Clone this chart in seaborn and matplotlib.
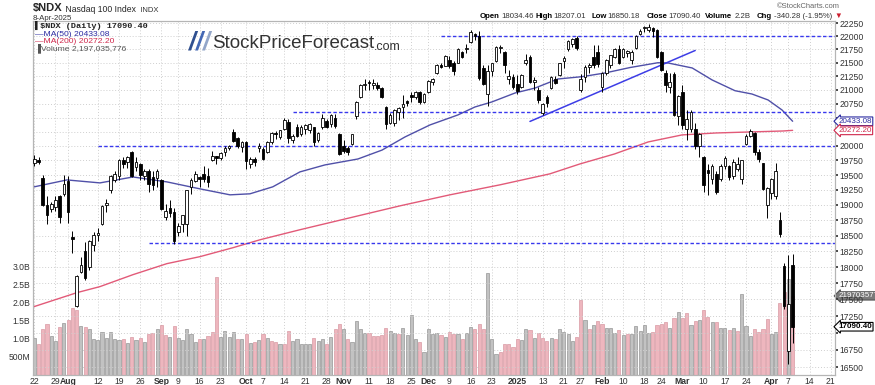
import numpy as np
import pandas as pd
import seaborn as sns
import matplotlib.pyplot as plt
from matplotlib import font_manager

# daily candles, 22-Jul-2024 .. 8-Apr-2025 (trading-day index 0..179)
opens = [19700, 19760, 19450, 19000, 18930, 18960, 19150, 19180,
         19400, 18480, 17400, 17930, 18260, 18000, 18350, 18510, 18680, 19000, 19240, 19420, 19490, 19760, 19720, 19890, 19640, 19680, 19480, 19560, 19460, 19450,
         19420, 18800, 18950, 18890, 18560, 18690, 18690, 19300, 19400, 19470, 19520, 19480, 19760, 19820, 19790, 19890, 19960, 20250, 20130, 19980,
         20060, 19680, 19780, 19960, 19950, 19900, 20060, 20230, 20160, 20300, 20420, 20110, 20340, 20200, 20300, 20280, 20330, 20100, 20340, 20440, 20380, 20500, 20200,
         19990, 19960, 20030, 20520, 20870, 21080, 21140, 21090, 21080, 21040, 20680, 20410, 20400, 20600, 20680, 20790, 20900, 20870, 20960, 20780,
         20960, 21140, 21300, 21460, 21440, 21560, 21500, 21500, 21700, 21760, 21900, 22050, 22000, 21400, 20920, 21350, 21530, 21780, 21700, 21200, 21240,
         21100, 21050, 21500, 21610, 21150, 21000, 20580, 20870, 21030, 21200, 21280, 21540, 21760, 21860, 21960, 20990, 21240, 21420, 21600, 21700,
         21050, 21300, 21450, 21600, 21760, 21600, 21680, 21550, 21780, 22050, 22150, 22120, 22150, 22130, 21700, 21300, 21050, 21290, 20520,
         20960, 20300, 20300, 20300, 20000, 19800, 19580, 19430, 19520, 19430, 19650, 19650, 19480, 19600, 19430, 20030, 20180, 20230, 19890, 19700, 19000,
         19200, 19150, 18750, 18010, 16730, 18034.46]
highs = [19850, 19810, 19500, 19150, 19040, 19150, 19170, 19500,
         19480, 18580, 17880, 18160, 18400, 18430, 18560, 18620, 19000, 19090, 19500, 19560, 19770, 19800, 19830, 19910, 19800, 19700, 19600, 19600, 19560, 19600,
         19430, 19020, 19080, 18950, 18700, 18840, 19250, 19450, 19560, 19480, 19660, 19620, 19920, 19830, 19900, 20000, 20020, 20300, 20150, 20080,
         20080, 19800, 19800, 20050, 19980, 20080, 20240, 20260, 20280, 20500, 20480, 20200, 20380, 20360, 20380, 20400, 20340, 20250, 20560, 20480, 20560, 20560, 20220,
         20100, 20000, 20210, 20800, 21100, 21190, 21180, 21190, 21150, 21060, 20700, 20580, 20660, 20690, 20900, 20820, 20960, 20970, 20980, 20950,
         21180, 21220, 21470, 21500, 21640, 21620, 21540, 21780, 21720, 21860, 22130, 22070, 22100, 21450, 21450, 21500, 21810, 21840, 21720, 21360, 21290,
         21270, 21290, 21670, 21640, 21230, 21050, 20760, 20900, 21250, 21250, 21500, 21620, 21930, 21960, 22000, 21290, 21450, 21500, 21840, 21830,
         21330, 21570, 21650, 21770, 21830, 21770, 21740, 21740, 22020, 22140, 22200, 22230, 22170, 22140, 21720, 21360, 21300, 21320, 20900,
         21080, 20640, 20640, 20400, 20220, 19830, 19680, 19680, 19560, 19680, 19830, 19670, 19780, 19800, 19760, 20200, 20290, 20240, 19950, 19710, 19300,
         19450, 19700, 18880, 18060, 18191, 18207.01]
lows = [19650, 19690, 18980, 18690, 18880, 18900, 18700, 19150,
        18700, 18215, 17380, 17900, 17800, 17960, 18260, 18420, 18670, 18880, 19200, 19380, 19420, 19620, 19620, 19470, 19560, 19420, 19420, 19220, 19250, 19300,
        18910, 18750, 18800, 18370, 18490, 18560, 18500, 19180, 19380, 19300, 19390, 19300, 19740, 19680, 19750, 19820, 19930, 20060, 19960, 19900,
        19600, 19620, 19650, 19900, 19760, 19880, 20040, 20120, 20120, 20280, 20050, 20050, 20160, 20180, 20200, 20220, 20000, 20060, 20300, 20320, 20340, 20320, 19840,
        19880, 19850, 20010, 20480, 20850, 21000, 21000, 21020, 20990, 20850, 20290, 20380, 20350, 20450, 20500, 20700, 20780, 20840, 20740, 20760,
        20940, 21080, 21290, 21400, 21430, 21400, 21280, 21490, 21580, 21680, 21880, 21930, 21180, 21080, 20700, 21260, 21520, 21680, 21300, 21100, 21020,
        20930, 21030, 21460, 21120, 21000, 20760, 20540, 20680, 21010, 21100, 21250, 21400, 21720, 21800, 21740, 20960, 21150, 21300, 21400, 21420,
        20960, 21280, 21400, 21580, 21480, 21590, 21600, 21480, 21760, 22020, 22080, 22080, 21980, 21580, 21350, 20960, 20950, 20520, 20370,
        20300, 20100, 20250, 19950, 19800, 19210, 19170, 19350, 19180, 19400, 19600, 19420, 19430, 19560, 19350, 20010, 20150, 19850, 19720, 19250, 18780,
        19100, 19100, 18470, 17360, 16542, 16850.18]
closes = [19770, 19730, 19000, 18830, 19020, 19080, 18800, 19350,
          18890, 18440, 17860, 18030, 17830, 18410, 18510, 18540, 18990, 19030, 19490, 19510, 19760, 19690, 19810, 19490, 19720, 19500, 19570, 19350, 19330, 19570,
          18940, 18900, 18870, 18420, 18650, 18830, 19240, 19410, 19520, 19430, 19440, 19390, 19820, 19790, 19880, 19960, 19990, 20080, 20000, 20060,
          19740, 19770, 19730, 20000, 19780, 20070, 20230, 20200, 20270, 20460, 20130, 20170, 20180, 20340, 20360, 20380, 20060, 20220, 20500, 20340, 20540, 20350, 19860,
          19920, 19900, 20200, 20780, 21090, 21110, 21120, 21130, 21040, 20860, 20390, 20550, 20640, 20670, 20740, 20760, 20860, 20960, 20780, 20930,
          21160, 21200, 21460, 21420, 21620, 21430, 21340, 21760, 21600, 21780, 22080, 22000, 21210, 21110, 21350, 21490, 21800, 21790, 21460, 21260, 21050,
          20980, 21280, 21550, 21150, 21180, 20820, 20740, 20760, 21240, 21120, 21490, 21580, 21910, 21950, 21780, 21200, 21420, 21450, 21450, 21480,
          21300, 21560, 21640, 21750, 21500, 21750, 21720, 21710, 22010, 22110, 22170, 22180, 22100, 21610, 21370, 21090, 21140, 20550, 20880,
          20360, 20480, 20600, 20000, 20200, 19330, 19540, 19650, 19210, 19650, 19790, 19470, 19720, 19680, 19750, 20180, 20260, 19890, 19770, 19270, 19280,
          19430, 19570, 18520, 17398, 17431, 17090.40]

# volume in billions, and bar colour (p = pink/down, g = grey/up)
volume_b = [1.03, 0.85, 1.27, 1.41, 1.08, 0.94, 1.33, 1.45,
            1.54, 1.87, 1.80, 1.36, 1.32, 1.27, 0.99, 0.97, 1.19, 1.03, 1.20, 1.01, 0.97, 1.01, 0.88, 1.06, 0.97, 1.02, 0.93, 1.13, 1.16, 1.29,
            1.39, 1.11, 1.05, 1.35, 1.02, 0.97, 1.27, 1.15, 0.92, 1.01, 1.01, 1.08, 1.20, 2.73, 1.06, 1.22, 1.05, 1.19, 1.01, 0.99,
            1.15, 0.90, 0.92, 0.96, 1.13, 1.03, 0.94, 0.93, 0.87, 0.87, 1.22, 0.94, 1.01, 0.87, 0.87, 0.87, 1.02, 0.94, 1.01, 0.87, 1.05, 1.27, 1.41,
            1.27, 0.99, 0.92, 1.50, 1.27, 1.16, 1.16, 1.08, 1.08, 1.10, 1.30, 1.22, 1.16, 1.13, 1.31, 1.10, 1.67, 1.01, 0.92, 0.63,
            1.27, 1.13, 1.16, 1.10, 1.05, 1.20, 1.15, 1.15, 0.99, 1.16, 1.33, 1.27, 1.43, 1.27, 2.82, 1.01, 0.57, 0.64, 0.87, 0.87, 0.78,
            0.99, 0.97, 1.27, 1.24, 1.03, 1.16, 1.02, 0.94, 1.02, 1.01, 1.29, 1.19, 1.13, 0.94, 1.06, 2.07, 1.54, 1.27, 1.39, 1.50,
            1.41, 1.31, 1.30, 1.17, 1.24, 1.10, 1.13, 1.13, 1.36, 1.22, 1.39, 1.17, 1.20, 1.39, 1.41, 1.48, 1.31, 1.59, 1.76,
            1.59, 1.73, 1.39, 1.50, 1.54, 1.81, 1.61, 1.47, 1.48, 1.30, 1.30, 1.24, 1.31, 1.22, 2.24, 1.36, 1.08, 1.27, 1.19, 1.27, 1.56,
            1.14, 1.19, 2.00, 2.30, 2.66, 2.197]
vol_dir = ("gpppggpg"
           "pppgpggggggggpgpgpgppg"
           "ppgpgggggpgpppggggpg"
           "pgpgpgppgppgggggpggpgpp"
           "gpggggpppppggpggggpg"
           "gggpgppgpggpppgggpppp"
           "pggpgpppgpggggppgpgp"
           "pgggpgpgggggppppgpg"
           "ppgpgppgpggpgpgggpppp"
           "ggppgp")

# moving averages (trading-day index, value)
ma50_x = [0, 7.7, 15.5, 23.3, 31.3, 39.1, 46.2, 50.9, 56.3, 62.7, 68.6, 76.4, 82.1, 87.5, 93.4, 100, 104, 108,
          113.5, 118.2, 123.6, 129.3, 134.7, 140.6, 147.2, 149.6, 155.3, 160, 165.4, 169.4, 173.2, 176.5, 179]
ma50_y = [19301, 19417, 19367, 19467, 19384, 19267, 19167, 19184, 19301, 19553, 19672, 19774, 19928, 20156, 20368, 20546, 20688, 20779,
          20942, 21032, 21198, 21241, 21309, 21410, 21500, 21495, 21402, 21180, 20983, 20923, 20815, 20634, 20433.08]
ma200_x = [0, 10.1, 15.5, 23.3, 31.3, 39.1, 46.9, 53.3, 62.7, 74.5, 86.3, 98.1, 109.9, 121.7, 128.8, 136.9, 144.9,
           152.9, 160.9, 168.9, 176.7, 179]
ma200_y = [17393, 17605, 17697, 17882, 18054, 18164, 18306, 18433, 18594, 18788, 18984, 19167, 19334, 19520, 19689, 19859, 20069,
           20192, 20226, 20244, 20261, 20272.20]

# drawn support / resistance lines and trend line
levels = [22000, 20600, 20000, 18380]
level_start = [96, 61, 15, 27]
trend_x = [117, 156]
trend_y = [20430, 21730]

date_pos = [0, 5, 8, 15, 20, 25, 30, 34, 39, 44, 50, 54, 59, 64, 69, 73, 79, 84, 89, 93, 98, 103, 108, 114,
            120, 125, 129, 134, 139, 144, 148, 153, 158, 163, 168, 174, 178, 183, 188]
date_lab = ["22", "29", "Aug", "12", "19", "26", "Sep", "9", "16", "23", "Oct", "7", "14", "21", "28", "Nov",
            "11", "18", "25", "Dec", "9", "16", "23", "2025", "13", "21", "27", "Feb", "10", "18", "24", "Mar",
            "10", "17", "24", "Apr", "7", "14", "21"]
price_ticks = [16500, 16750, 17000, 17250, 17500, 17750, 18000, 18250, 18500, 18750, 19000, 19250,
               19500, 19750, 20000, 20250, 20500, 20750, 21000, 21250, 21500, 21750, 22000, 22250]
hidden_ticks = [17000, 20250, 20500]   # covered by the value tags in the reference
vol_ticks = [0.5, 1.0, 1.5, 2.0, 2.5, 3.0]
vol_lab = ["500M", "1.0B", "1.5B", "2.0B", "2.5B", "3.0B"]

df = pd.DataFrame({"o": opens, "h": highs, "l": lows, "c": closes, "v": volume_b})
df["i"] = np.arange(len(df))
df["d"] = list(vol_dir)
up = df["c"] >= df["o"]

sns.set_theme(style="white")
plt.rcParams["font.family"] = ["Liberation Sans", "DejaVu Sans"]
installed = {f.name for f in font_manager.fontManager.ttflist}
logo_font = "Liberation Sans Narrow" if "Liberation Sans Narrow" in installed else "Liberation Sans"
logo_size = 15.5 if logo_font == "Liberation Sans Narrow" else 13.5

W, H = 875, 385
fig = plt.figure(figsize=(W / 100, H / 100), dpi=100)
fig.patch.set_facecolor("white")
axv = fig.add_axes([33 / W, 10 / H, 802 / W, 354.3 / H])
axp = axv.twinx()

# volume
vfill = np.where(df["d"] == "p", "#eeb6be", "#c2c2c2")
vedge = np.where(df["d"] == "p", "#d99aa4", "#969696")
axv.bar(df["i"], df["v"], width=0.74, color=vfill, edgecolor=vedge, linewidth=0.5, zorder=2)
axv.set_ylim(0, 9.84)
axv.set_yticks(vol_ticks, vol_lab)
axv.set_xlim(-0.3, 189)
axv.set_xticks(date_pos, date_lab)
axv.grid(axis="x", color="#cfcfcf", linestyle=(0, (1, 2)), linewidth=0.7)
axv.set_axisbelow(True)

# price
axp.set_yscale("log")
axp.vlines(df["i"], df["l"], df["h"], color="black", linewidth=0.7, zorder=3)
body_lo = np.minimum(df["o"], df["c"])
body_h = np.maximum(np.abs(df["c"] - df["o"]), 8)
axp.bar(df["i"], body_h, bottom=body_lo, width=0.62,
        color=np.where(up, "white", "black"), edgecolor="black", linewidth=0.6, zorder=4)
sns.lineplot(x=ma50_x, y=ma50_y, ax=axp, color="#5050a8", linewidth=1.0, zorder=2)
sns.lineplot(x=ma200_x, y=ma200_y, ax=axp, color="#e25a78", linewidth=1.0, zorder=2)
sns.lineplot(x=trend_x, y=trend_y, ax=axp, color="#3d3de6", linewidth=1.1, zorder=2)
axp.hlines(levels, level_start, 189, colors="#3838ee", linestyles=(0, (2.5, 1.6)), linewidth=1.0, zorder=2)
axp.set_ylim(16388, 22300)
axp.set_yticks(price_ticks, ["" if t in hidden_ticks else str(t) for t in price_ticks])
axp.yaxis.set_minor_locator(plt.NullLocator())
axp.grid(axis="y", which="major", color="#cfcfcf", linestyle=(0, (1, 2)), linewidth=0.7)
axp.set_axisbelow(True)
axp.set_xlim(-0.3, 189)

for a in (axv, axp):
    a.set_xlabel("")
    a.set_ylabel("")
    for s in a.spines.values():
        s.set_color("#b5b5b5")
        s.set_linewidth(0.8)
axv.tick_params(axis="both", labelsize=6.2, colors="#333333", length=0, pad=2)
axv.tick_params(axis="x", pad=1.5)
axp.tick_params(axis="y", labelsize=6.2, colors="#333333", length=2, pad=1.5)
for t in axv.get_xticklabels():
    if not t.get_text().isdigit() or t.get_text() == "2025":
        t.set_fontweight("bold")

# value tags on the right axis
tag = dict(xycoords=("axes fraction", "data"), xytext=(2.5, 0), textcoords="offset points",
           va="center", ha="left", fontsize=5.8, annotation_clip=False)
axp.annotate("20433.08", xy=(1, 20433.08), color="#2a2aa0",
             bbox=dict(boxstyle="larrow,pad=0.1", fc="white", ec="#2a2aa0", lw=0.8), zorder=6, **tag)
axp.annotate("20272.20", xy=(1, 20272.20), color="#d0284c",
             bbox=dict(boxstyle="larrow,pad=0.1", fc="white", ec="#d0284c", lw=0.8), zorder=6, **tag)
axp.annotate("17090.40", xy=(1, 17090.40), color="black", fontweight="bold",
             bbox=dict(boxstyle="larrow,pad=0.1", fc="white", ec="black", lw=0.8), zorder=6, **tag)
axv.annotate("2197035776", xy=(1, 2.197), color="white",
             bbox=dict(boxstyle="larrow,pad=0.08", fc="#7a7a7a", ec="#555555", lw=0.8), zorder=6, **tag)

# header
t = fig.text(33 / W, 1 - 11.5 / H, "$NDX", fontsize=8, fontweight="bold", va="baseline")
t = axp.annotate(" Nasdaq 100 Index", xy=(1, 0), xycoords=t, va="bottom", fontsize=6.2, annotation_clip=False)
axp.annotate("  INDX", xy=(1, 0), xycoords=t, va="bottom", fontsize=5.5, color="#333333", annotation_clip=False)
fig.text(33 / W, 1 - 19.5 / H, "8-Apr-2025", fontsize=5.7, va="baseline", color="#333333")
fig.text(840 / W, 1 - 8 / H, "\u00a9StockCharts.com", fontsize=5.4, ha="right", va="baseline", color="#666666")
info_txt = ["Open", "18034.46", "High", "18207.01", "Low", "16850.18", "Close", "17090.40",
            "Volume", "2.2B", "Chg", "-340.28 (-1.95%)", "\u25bc"]
info_x = [480, 501, 536, 553, 592, 607, 647, 668, 705, 735, 757, 774, 834]
for k, (s, x) in enumerate(zip(info_txt, info_x)):
    label = k % 2 == 0 and k < 12
    fig.text(x / W, 1 - 17.5 / H, s, fontsize=5.6, va="baseline",
             fontweight="bold" if label else "normal",
             color="#cc1f2f" if s == "\u25bc" else ("black" if label else "#333333"))

# legend block inside the plot
lx = 35 / W
fig.text(lx, 1 - 28 / H, "\u258c$NDX (Daily) 17090.40", fontsize=6.1, family="Liberation Mono",
         fontweight="bold", color="#222222", va="baseline")
fig.text(lx, 1 - 35.5 / H, "\u2014MA(50) 20433.08", fontsize=6.1, color="#2a2aa0", va="baseline")
fig.text(lx, 1 - 43 / H, "\u2014MA(200) 20272.20", fontsize=6.1, color="#d0284c", va="baseline")
fig.text(lx, 1 - 50.5 / H, "\u2590Volume 2,197,035,776", fontsize=6.1, color="#555555", va="baseline")

# watermark logo
for k, col in enumerate(["#2f4f8f", "#4468b4", "#93a6c9"]):
    fig.text((189 + 7 * k) / W, 1 - 50 / H, "/", fontsize=18, fontweight="bold", color=col,
             va="baseline", fontstyle="italic")
lg = fig.text(212 / W, 1 - 48.5 / H, "StockPriceForecast", fontsize=logo_size, color="#333333",
              va="baseline", family=logo_font)
axp.annotate(".com", xy=(1, 0), xycoords=lg, va="bottom", fontsize=9, color="#333333",
             annotation_clip=False)

fig.savefig("out.png", dpi=100, facecolor="white")
